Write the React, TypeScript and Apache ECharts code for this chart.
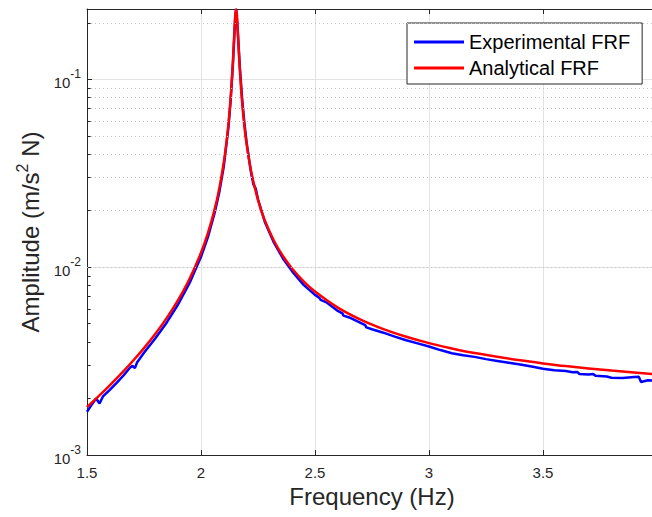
import React, { useEffect, useRef } from "react";
import * as echarts from "echarts";

const freqA = [1.5, 1.55, 1.6, 1.65, 1.7, 1.75, 1.8, 1.85, 1.9, 1.95, 2.0, 2.03, 2.06, 2.08, 2.1, 2.11, 2.12, 2.13, 2.14, 2.145, 2.15, 2.154, 2.158, 2.165, 2.17, 2.18, 2.19, 2.2, 2.22, 2.25, 2.28, 2.32, 2.36, 2.4, 2.45, 2.5, 2.6, 2.7, 2.8, 2.9, 3.0, 3.1, 3.2, 3.4, 3.5, 3.6, 3.8, 4.0];
const ampA = [0.001798, 0.002051, 0.002351, 0.002712, 0.003155, 0.003709, 0.004421, 0.005371, 0.006696, 0.008675, 0.011926, 0.015137, 0.02038, 0.0262, 0.03622, 0.0445, 0.0573, 0.0794, 0.1241, 0.1642, 0.2162, 0.236, 0.2169, 0.1482, 0.1143, 0.0764, 0.05694, 0.04535, 0.03232, 0.02277, 0.01773, 0.01382, 0.011429, 0.00982, 0.008413, 0.007413, 0.00609, 0.005254, 0.004679, 0.00426, 0.003942, 0.003693, 0.003492, 0.003191, 0.003074, 0.002975, 0.002814, 0.00269];

const freqE = [1.5, 1.52, 1.54, 1.555, 1.57, 1.6, 1.63, 1.66, 1.69, 1.7, 1.71, 1.72, 1.75, 1.8, 1.85, 1.9, 1.95, 2.0, 2.03, 2.06, 2.08, 2.1, 2.12, 2.13, 2.14, 2.15, 2.154, 2.16, 2.17, 2.18, 2.19, 2.2, 2.21, 2.22, 2.23, 2.24, 2.25, 2.28, 2.32, 2.36, 2.4, 2.45, 2.5, 2.52, 2.525, 2.55, 2.6, 2.62, 2.625, 2.65, 2.7, 2.72, 2.725, 2.75, 2.8, 2.85, 2.9, 2.95, 3.0, 3.05, 3.1, 3.15, 3.2, 3.25, 3.3, 3.35, 3.4, 3.45, 3.5, 3.55, 3.6, 3.63, 3.65, 3.66, 3.7, 3.72, 3.73, 3.78, 3.8, 3.85, 3.9, 3.92, 3.93, 3.96, 4.0];
const ampE = [0.0017, 0.00185, 0.002, 0.00188, 0.00205, 0.00222, 0.00242, 0.00265, 0.00293, 0.00298, 0.0029, 0.00312, 0.0035, 0.00418, 0.00508, 0.00635, 0.00825, 0.01135, 0.0144, 0.0195, 0.025, 0.0345, 0.055, 0.077, 0.121, 0.212, 0.236, 0.19, 0.118, 0.08, 0.059, 0.0462, 0.038, 0.0316, 0.0276, 0.0262, 0.023, 0.0174, 0.0135, 0.0111, 0.0095, 0.00805, 0.00712, 0.00685, 0.0067, 0.0065, 0.00585, 0.00568, 0.00552, 0.0054, 0.00505, 0.00492, 0.00478, 0.00467, 0.00448, 0.00427, 0.00408, 0.00393, 0.00378, 0.00362, 0.00348, 0.0034, 0.00333, 0.00324, 0.00317, 0.0031, 0.00303, 0.00296, 0.00288, 0.00283, 0.0028, 0.00276, 0.00277, 0.0027, 0.00268, 0.0027, 0.00264, 0.00262, 0.00258, 0.00257, 0.0026, 0.00261, 0.00245, 0.0025, 0.00248];

const minorY = [0.002, 0.003, 0.004, 0.005, 0.006, 0.007, 0.008, 0.009, 0.02, 0.03, 0.04, 0.05, 0.06, 0.07, 0.08, 0.09, 0.2];
const seriesNames = ["Experimental FRF", "Analytical FRF"];

const AX = "#262626";
const FONT = "Liberation Sans, Arial, sans-serif";

export default function App() {
  const ref = useRef<HTMLDivElement>(null);
  useEffect(() => {
    if (!ref.current) return;
    const chart = echarts.init(ref.current, undefined, { renderer: "svg" });
    const dataE = freqE.map((f, i) => [f, ampE[i]]);
    const dataA = freqA.map((f, i) => [f, ampA[i]]);
    const xMin = 1.5;
    const tickLen = 0.016;
    chart.setOption({
      animation: false,
      backgroundColor: "#ffffff",
      textStyle: { fontFamily: FONT },
      grid: { left: 87, top: 9, width: 570, height: 446, containLabel: false, outerBoundsMode: "none" },
      legend: {
        data: seriesNames,
        orient: "vertical",
        left: 407,
        top: 23,
        icon: "rect",
        itemWidth: 50,
        itemHeight: 3,
        itemGap: 6,
        padding: [9, 12, 6, 7],
        backgroundColor: "#ffffff",
        borderColor: AX,
        borderWidth: 1,
        borderRadius: 0,
        textStyle: { fontSize: 20, color: "#000", fontFamily: FONT },
      },
      xAxis: [
        {
          type: "value",
          min: 1.5,
          max: 4.0,
          interval: 0.5,
          name: "Frequency (Hz)",
          nameLocation: "middle",
          nameGap: 22,
          nameTextStyle: { fontSize: 24, color: AX, fontFamily: FONT },
          axisLine: { show: true, lineStyle: { color: AX, width: 1 } },
          axisTick: { show: true, inside: true, length: 5, lineStyle: { color: AX } },
          axisLabel: { fontSize: 15, color: AX, margin: 10, fontFamily: FONT, formatter: (v: number) => String(v) },
          splitLine: { show: true, lineStyle: { color: "#e3e3e3", width: 1 } },
        },
        {
          type: "value",
          position: "top",
          min: 1.5,
          max: 4.0,
          interval: 0.5,
          axisLine: { show: true, onZero: false, lineStyle: { color: AX, width: 1 } },
          axisTick: { show: true, inside: true, length: 5, lineStyle: { color: AX } },
          axisLabel: { show: false },
          splitLine: { show: false },
        },
      ],
      yAxis: {
        type: "log",
        logBase: 10,
        min: 0.001,
        max: 0.237,
        name: "{a|Amplitude (m/s}{s|2}{a| N)}",
        nameLocation: "middle",
        nameGap: 40,
        nameRotate: 90,
        nameTextStyle: {
          color: AX,
          fontFamily: FONT,
          rich: {
            a: { fontSize: 24, color: AX, fontFamily: FONT, lineHeight: 28, verticalAlign: "bottom" },
            s: { fontSize: 16, color: AX, fontFamily: FONT, lineHeight: 28, verticalAlign: "top" },
          },
        },
        axisLine: { show: true, lineStyle: { color: AX, width: 1 } },
        axisTick: { show: true, inside: true, length: 5, lineStyle: { color: AX } },
        axisLabel: {
          showMaxLabel: false,
          margin: 6,
          formatter: (v: number) => {
            const l = Math.log10(v);
            const e = Math.round(l);
            if (Math.abs(l - e) > 1e-6) return "";
            return `{b|10}{s|${e}}`;
          },
          rich: {
            b: { fontSize: 15, color: AX, fontFamily: FONT, lineHeight: 22, verticalAlign: "bottom", padding: [6, 0, 0, 0] },
            s: { fontSize: 12, color: AX, fontFamily: FONT, lineHeight: 22, verticalAlign: "top" },
          },
        },
        splitLine: { show: true, lineStyle: { color: "#e3e3e3", width: 1 } },
      },
      series: [
        {
          name: "grid-minor",
          type: "line",
          data: [[1.5, 0.001]],
          symbol: "none",
          lineStyle: { opacity: 0 },
          silent: true,
          z: 1,
          markLine: {
            silent: true,
            symbol: ["none", "none"],
            label: { show: false },
            animation: false,
            lineStyle: { type: [1, 3], color: "#c4c4c4", width: 1 },
            data: minorY.map((v) => ({ yAxis: v })),
          },
        },
        {
          name: "tick-minor",
          type: "line",
          data: [[1.5, 0.001]],
          symbol: "none",
          lineStyle: { opacity: 0 },
          silent: true,
          z: 1,
          markLine: {
            silent: true,
            symbol: ["none", "none"],
            label: { show: false },
            animation: false,
            lineStyle: { type: "solid", color: AX, width: 1 },
            data: minorY.map((v) => [{ coord: [xMin, v] }, { coord: [xMin + tickLen, v] }]),
          },
        },
        {
          name: seriesNames[0],
          type: "line",
          data: dataE,
          symbol: "none",
          showSymbol: false,
          lineStyle: { color: "#0000ff", width: 2.5 },
          itemStyle: { color: "#0000ff" },
          z: 3,
        },
        {
          name: seriesNames[1],
          type: "line",
          data: dataA,
          symbol: "none",
          showSymbol: false,
          smooth: 0.3,
          lineStyle: { color: "#ff0000", width: 2.5 },
          itemStyle: { color: "#ff0000" },
          z: 4,
        },
      ],
    });
    return () => chart.dispose();
  }, []);
  return <div ref={ref} style={{ position: "fixed", left: 0, top: 0, width: 652, height: 517 }} />;
}
